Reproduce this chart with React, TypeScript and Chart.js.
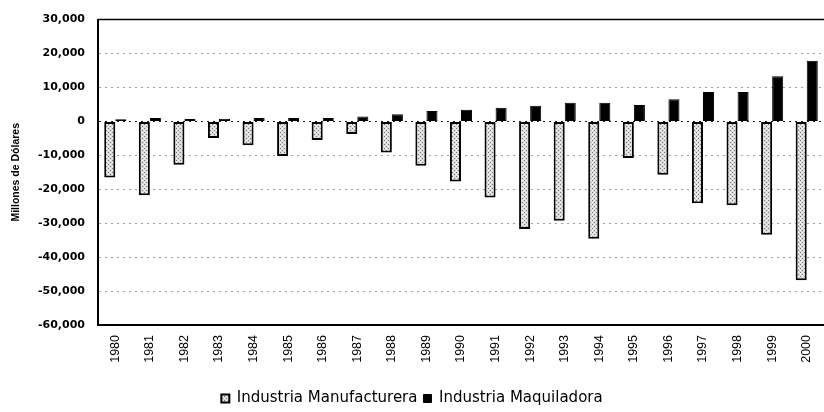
import React, { useEffect, useRef } from 'react';
import { Chart, registerables } from 'chart.js';

Chart.register(...registerables);

const years = ['1980', '1981', '1982', '1983', '1984', '1985', '1986', '1987', '1988', '1989', '1990', '1991', '1992', '1993', '1994', '1995', '1996', '1997', '1998', '1999', '2000'];
const manufacturera = [-16500, -21800, -12800, -4900, -7000, -10200, -5500, -3700, -9200, -13100, -17700, -22400, -31700, -29300, -34600, -10800, -15700, -24100, -24700, -33400, -46800];
const maquiladora = [600, 1000, 700, 800, 1000, 1000, 1000, 1450, 2100, 3100, 3400, 4000, 4600, 5500, 5500, 4800, 6500, 8700, 8700, 13300, 17900];
const seriesNames = ['Industria Manufacturera', 'Industria Maquiladora'];
const yMin = -60000;
const yMax = 30000;
const yStep = 10000;
const yTitle = 'Millones de Dólares';

function makePattern(): CanvasPattern | string {
  const c = document.createElement('canvas');
  c.width = 4;
  c.height = 4;
  const g = c.getContext('2d');
  if (!g) return '#ccc';
  g.fillStyle = '#dcdcdc';
  g.fillRect(0, 0, 4, 4);
  g.fillStyle = '#777';
  g.fillRect(0, 0, 1, 1);
  g.fillRect(2, 2, 1, 1);
  g.fillStyle = '#f4f4f4';
  g.fillRect(2, 0, 1, 1);
  g.fillRect(0, 2, 1, 1);
  const p = g.createPattern(c, 'repeat');
  return p || '#ccc';
}

const framePlugin = {
  id: 'frame',
  afterDraw(chart: any) {
    const { ctx, chartArea } = chart;
    ctx.save();
    ctx.strokeStyle = '#000';
    ctx.lineWidth = 1.5;
    ctx.setLineDash([]);
    ctx.beginPath();
    ctx.moveTo(chartArea.left, chartArea.top);
    ctx.lineTo(chartArea.right, chartArea.top);
    ctx.stroke();
    ctx.restore();
  },
};

export default function App() {
  const ref = useRef<HTMLCanvasElement | null>(null);
  useEffect(() => {
    if (!ref.current) return;
    const pattern = makePattern();
    const chart = new Chart(ref.current, {
      type: 'bar',
      data: {
        labels: years,
        datasets: [
          {
            label: seriesNames[0],
            data: manufacturera,
            backgroundColor: pattern as any,
            borderColor: '#000',
            borderWidth: 2,
            borderSkipped: false,
          },
          {
            label: seriesNames[1],
            data: maquiladora,
            backgroundColor: '#000',
            borderColor: '#000',
            borderWidth: 1,
            borderSkipped: false,
          },
        ],
      },
      options: {
        responsive: false,
        animation: false,
        layout: { padding: { top: 15, right: 0, left: 0, bottom: -4 } },
        datasets: { bar: { categoryPercentage: 0.64, barPercentage: 1.0 } },
        scales: {
          x: {
            grid: { display: false, drawTicks: false },
            border: { display: true, color: '#000', width: 2 },
            ticks: {
              minRotation: 90,
              maxRotation: 90,
              autoSkip: false,
              padding: 10,
              color: '#000',
              font: { family: 'Liberation Sans, Arial, sans-serif', size: 12.5 },
            },
            afterFit(scale: any) {
              scale.height = 60;
              scale.paddingLeft = 0;
              scale.paddingRight = 0;
            },
          },
          y: {
            min: yMin,
            max: yMax,
            ticks: {
              stepSize: yStep,
              padding: 13,
              color: '#000',
              font: { family: 'DejaVu Sans', size: 11, weight: 'bold' },
              callback: (v: any) => Number(v).toLocaleString('en-US'),
            },
            grid: {
              drawTicks: false,
              color: (ctx: any) => (ctx.tick && ctx.tick.value === 0 ? '#222' : '#a0a0a0'),
              lineWidth: 1,
            },
            border: { display: true, color: '#000', width: 2, dash: [2, 4] },
            title: {
              display: true,
              text: yTitle,
              color: '#000',
              padding: { top: 10, bottom: 0 },
              font: { family: 'Liberation Sans, Arial, sans-serif', size: 10.5, weight: 'bold' },
            },
            afterFit(scale: any) {
              scale.width = 98;
            },
          },
        },
        plugins: {
          legend: {
            position: 'bottom',
            labels: {
              boxWidth: 8,
              boxHeight: 8,
              padding: 6,
              color: '#000',
              font: { family: 'DejaVu Sans', size: 15, lineHeight: 1.0 },
            },
          },
          tooltip: { enabled: false },
        },
      },
      plugins: [framePlugin],
    } as any);
    return () => chart.destroy();
  }, []);
  return (
    <div style={{ position: 'fixed', left: 0, top: 0, width: 824, height: 412, background: '#fff' }}>
      <canvas ref={ref} width={824} height={412} />
    </div>
  );
}
